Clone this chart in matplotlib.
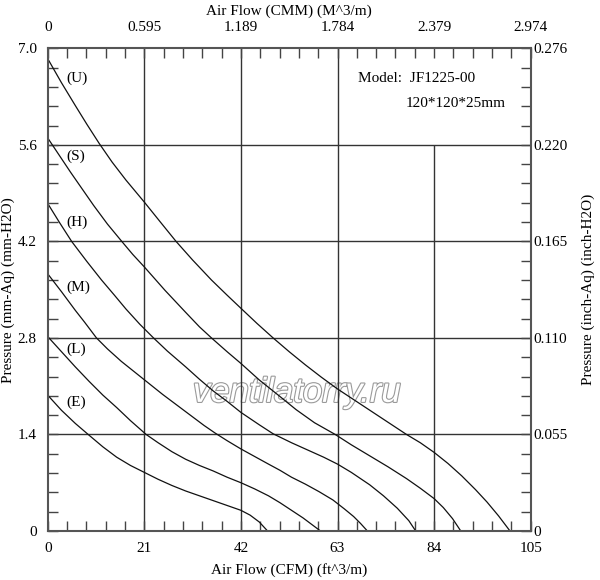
import matplotlib
matplotlib.use("Agg")
import matplotlib.pyplot as plt
import matplotlib.patheffects as pe
from matplotlib.ticker import MultipleLocator

plt.rcParams['font.family'] = ['Liberation Serif', 'DejaVu Serif']

# axis ticks
cfm_ticks = [0, 21, 42, 63, 84, 105]
cmm_labels = ['0', '0.595', '1.189', '1.784', '2.379', '2.974']
p_ticks = [0, 1.4, 2.8, 4.2, 5.6, 7.0]
p_labels = ['0', '1.4', '2.8', '4.2', '5.6', '7.0']
inch_labels = ['0', '0.055', '0.110', '0.165', '0.220', '0.276']

# P-Q curves (CFM, mm-H2O)
u_cfm = [0, 3, 6, 8.5, 11.2, 14, 17, 21, 24.5, 27.9, 31.5, 35.6, 39, 42, 45.5, 49,
         52.5, 56, 59.5, 63, 68, 73, 78, 81, 84, 87, 90, 93, 95.5, 98, 100.5]
u_p = [6.85, 6.50, 6.17, 5.90, 5.62, 5.35, 5.09, 4.77, 4.48, 4.2, 3.93, 3.64, 3.42, 3.23, 3.01, 2.80,
       2.60, 2.41, 2.23, 2.06, 1.84, 1.62, 1.40, 1.28, 1.14, 0.98, 0.80, 0.60, 0.42, 0.22, 0]

s_cfm = [0, 5, 10, 13, 16.1, 18.5, 21, 25.5, 30, 33, 35.6, 39, 42, 46, 50.5, 54, 58,
         62.5, 66, 70, 74, 78, 81, 84, 86, 88, 89.8]
s_p = [5.70, 5.20, 4.72, 4.45, 4.2, 4.01, 3.83, 3.49, 3.17, 2.96, 2.80, 2.60, 2.43, 2.19, 1.95, 1.76, 1.57,
       1.40, 1.25, 1.09, 0.93, 0.76, 0.62, 0.47, 0.34, 0.18, 0]

h_cfm = [0, 2.6, 5.2, 8.5, 11.7, 14.5, 17, 20, 23, 26, 30, 33, 36, 39, 42, 46, 49, 53,
         56, 60, 63, 66, 70, 73, 76, 78.5, 80]
h_p = [4.75, 4.47, 4.2, 3.91, 3.64, 3.42, 3.22, 3.0, 2.80, 2.61, 2.38, 2.20, 2.03, 1.88, 1.72, 1.54, 1.41, 1.28,
       1.19, 1.07, 0.97, 0.85, 0.67, 0.51, 0.33, 0.15, 0]

m_cfm = [0, 3, 6, 8, 10.6, 13, 16, 19, 22, 25, 28, 31, 34, 36.4, 39, 42, 45, 48, 50.5,
         53, 56, 59, 62, 64.5, 66.5, 68, 69.5]
m_p = [3.73, 3.47, 3.20, 3.03, 2.80, 2.64, 2.46, 2.30, 2.14, 1.98, 1.83, 1.68, 1.53, 1.42, 1.31, 1.19, 1.08, 0.97, 0.88,
       0.78, 0.68, 0.57, 0.45, 0.32, 0.21, 0.11, 0]

l_cfm = [0, 3, 6, 9, 12, 15, 18, 21.4, 24, 27, 30, 33, 36, 39, 42, 45, 48, 50.5, 53, 55.5, 57.5, 59.3]
l_p = [2.82, 2.60, 2.38, 2.17, 1.97, 1.79, 1.60, 1.40, 1.28, 1.15, 1.04, 0.95, 0.87, 0.78, 0.70, 0.61, 0.51, 0.41,
       0.30, 0.19, 0.09, 0]

e_cfm = [0, 3, 6, 8.8, 12, 15, 18, 21, 24, 27, 30, 33, 36, 39, 42, 44, 46, 47.8]
e_p = [1.97, 1.75, 1.56, 1.40, 1.22, 1.07, 0.95, 0.85, 0.75, 0.66, 0.58, 0.51, 0.44, 0.37, 0.30, 0.23, 0.13, 0]

curves = [(u_cfm, u_p), (s_cfm, s_p), (h_cfm, h_p), (m_cfm, m_p), (l_cfm, l_p), (e_cfm, e_p)]
curve_names = ['(U)', '(S)', '(H)', '(M)', '(L)', '(E)']
name_y = [6.56, 5.43, 4.48, 3.53, 2.64, 1.87]

fig = plt.figure(figsize=(6, 5.8), dpi=100)
ax = fig.add_axes([0.0795, 0.0845, 0.805, 0.8322])

ax.set_xlim(0, 105)
ax.set_ylim(0, 7.0)

# grid
for v in p_ticks[1:-1]:
    ax.axhline(v, color='#333333', lw=1.0, zorder=1)
for v in cfm_ticks[1:4]:
    ax.axvline(v, color='#333333', lw=1.0, zorder=1)
ax.vlines(cfm_ticks[4], 0, p_ticks[4], color='#333333', lw=1.0, zorder=1)

for (x, y) in curves:
    ax.plot(x, y, color='#111111', lw=0.9, zorder=2, solid_joinstyle='round')

for name, y in zip(curve_names, name_y):
    ax.text(4.0, y, name, fontsize=11, ha='left', va='center')

ax.text(67.5, 6.56, 'Model:  JF1225-00', fontsize=11, ha='left', va='center')
ax.text(77.8, 6.2, '120*120*25mm', fontsize=11, ha='left', va='center')

ax.text(54.2, 2.01, 'ventilatorry.ru', fontsize=25, style='italic',
        family='Liberation Sans', color='white', ha='center', va='center',
        zorder=0.5,
        path_effects=[pe.Stroke(linewidth=1.6, foreground='#9a9a9a'), pe.Normal()])

# ticks
ax.set_xticks(cfm_ticks)
ax.set_xticklabels([str(t) for t in cfm_ticks])
ax.set_yticks(p_ticks)
ax.set_yticklabels(p_labels)
ax.xaxis.set_minor_locator(MultipleLocator(4.2))
ax.yaxis.set_minor_locator(MultipleLocator(0.28))
ax.tick_params(which='both', direction='in', top=True, right=True,
               length=7, width=1.0, color='#444444', labelsize=11)
ax.tick_params(axis='x', which='major', pad=8)
ax.tick_params(axis='y', which='major', pad=8)

for sp in ax.spines.values():
    sp.set_color('#555555')
    sp.set_linewidth(1.5)

top = ax.secondary_xaxis('top')
top.set_xticks(cfm_ticks, labels=cmm_labels)
top.tick_params(length=0, pad=10, labelsize=11)
top.spines['top'].set_visible(False)

right = ax.secondary_yaxis('right')
right.set_yticks(p_ticks, labels=inch_labels)
right.tick_params(length=0, pad=2, labelsize=11)
right.spines['right'].set_visible(False)

ax.set_xlabel('Air Flow (CFM) (ft^3/m)', fontsize=11, labelpad=6)
top.set_xlabel('Air Flow (CMM) (M^3/m)', fontsize=11, labelpad=5)
ax.set_ylabel('Pressure (mm-Aq) (mm-H2O)', fontsize=11, labelpad=2)
right.set_ylabel('Pressure (inch-Aq) (inch-H2O)', fontsize=11, labelpad=10)

fig.savefig('out.png', dpi=100)
